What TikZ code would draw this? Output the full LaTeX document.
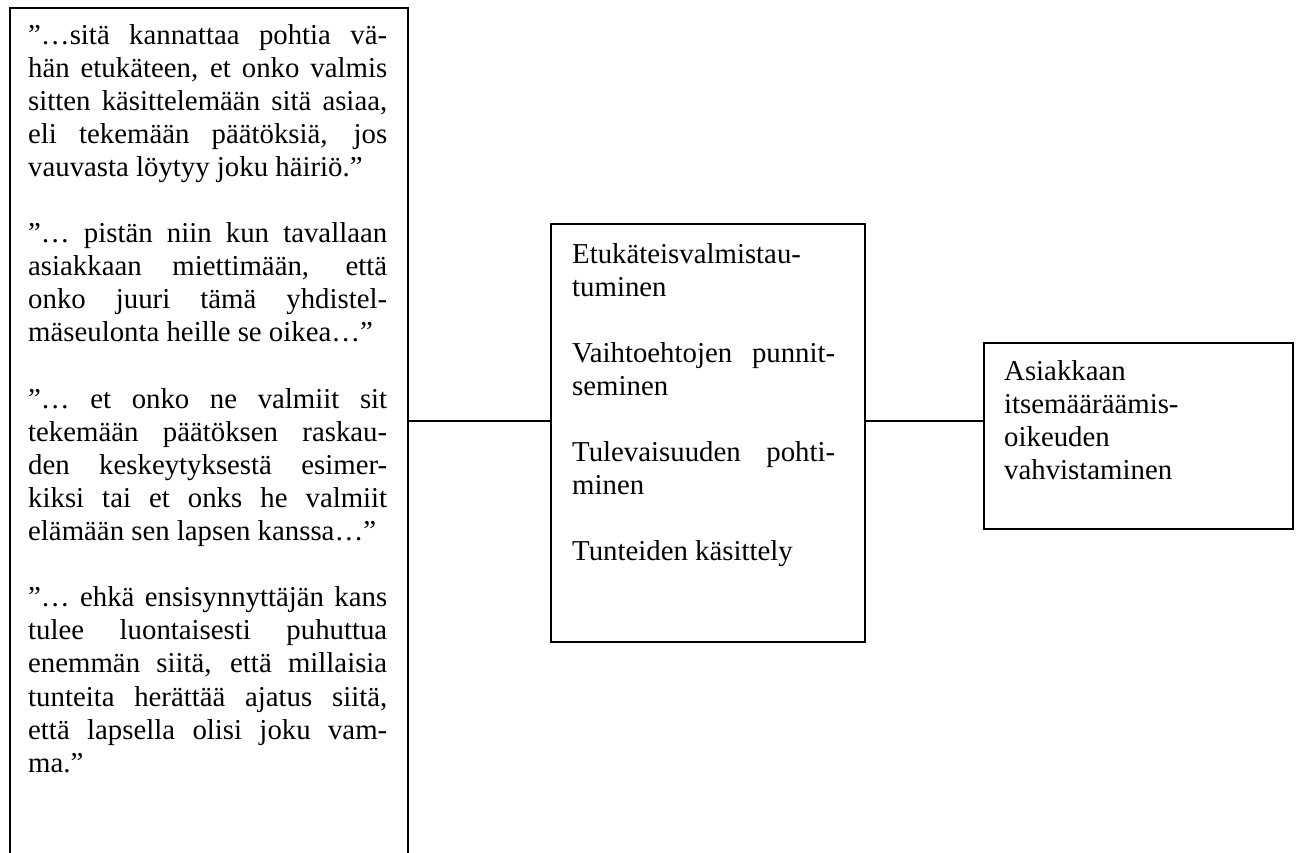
\documentclass[tikz,border=0pt]{standalone}
\usepackage{fontspec}
\setmainfont{Liberation Serif}
\newcommand{\jl}[1]{\makebox[\linewidth][s]{#1}}
\newcommand{\txtfont}{\fontsize{28.8pt}{33.1pt}\selectfont}
\tikzset{
  box/.style={draw=black, line width=1.6pt, rectangle, inner sep=0pt, anchor=north west},
  txt/.style={inner sep=0pt, anchor=base west, align=left},
  conn/.style={draw=black, line width=1.6pt}
}
\begin{document}
\begin{tikzpicture}[x=1pt,y=-1pt]
\useasboundingbox (0,0) rectangle (1300,852);
\clip (0,0) rectangle (1300,852);
\fill[white] (0,0) rectangle (1300,852);
% boxes
\node[box, minimum width=398pt, minimum height=880pt] (left) at (9,7) {};
\node[box, minimum width=314pt, minimum height=418pt] (mid) at (550,223) {};
\node[box, minimum width=309pt, minimum height=186pt] (right) at (983,342) {};
% texts
\node[txt] (lefttext) at (28,44) {\parbox[t]{359pt}{\txtfont\raggedright
\jl{”…sitä kannattaa pohtia vä-}\\
\jl{hän etukäteen, et onko valmis}\\
\jl{sitten käsittelemään sitä asiaa,}\\
\jl{eli tekemään päätöksiä, jos}\\
vauvasta löytyy joku häiriö.”\\[33.1pt]
\jl{”… pistän niin kun tavallaan}\\
\jl{asiakkaan miettimään, että}\\
\jl{onko juuri tämä yhdistel-}\\
mäseulonta heille se oikea…”\\[33.1pt]
\jl{”… et onko ne valmiit sit}\\
\jl{tekemään päätöksen raskau-}\\
\jl{den keskeytyksestä esimer-}\\
\jl{kiksi tai et onks he valmiit}\\
elämään sen lapsen kanssa…”\\[33.1pt]
\jl{”… ehkä ensisynnyttäjän kans}\\
\jl{tulee luontaisesti puhuttua}\\
\jl{enemmän siitä, että millaisia}\\
\jl{tunteita herättää ajatus siitä,}\\
\jl{että lapsella olisi joku vam-}\\
ma.”}};
\node[txt] (midtext) at (572,263) {\parbox[t]{263pt}{\txtfont\raggedright
Etukäteisvalmistau-\\
tuminen\\[33.1pt]
\jl{Vaihtoehtojen punnit-}\\
seminen\\[33.1pt]
\jl{Tulevaisuuden pohti-}\\
minen\\[33.1pt]
Tunteiden käsittely}};
\node[txt] (righttext) at (1004,380) {\parbox[t]{280pt}{\txtfont\raggedright
Asiakkaan\\
itsemääräämis-\\
oikeuden\\
vahvistaminen}};
% connectors
\coordinate (cy) at (0,421);
\draw[conn] (cy -| left.east) -- (cy -| mid.west);
\draw[conn] (cy -| mid.east) -- (cy -| right.west);
\end{tikzpicture}
\end{document}
